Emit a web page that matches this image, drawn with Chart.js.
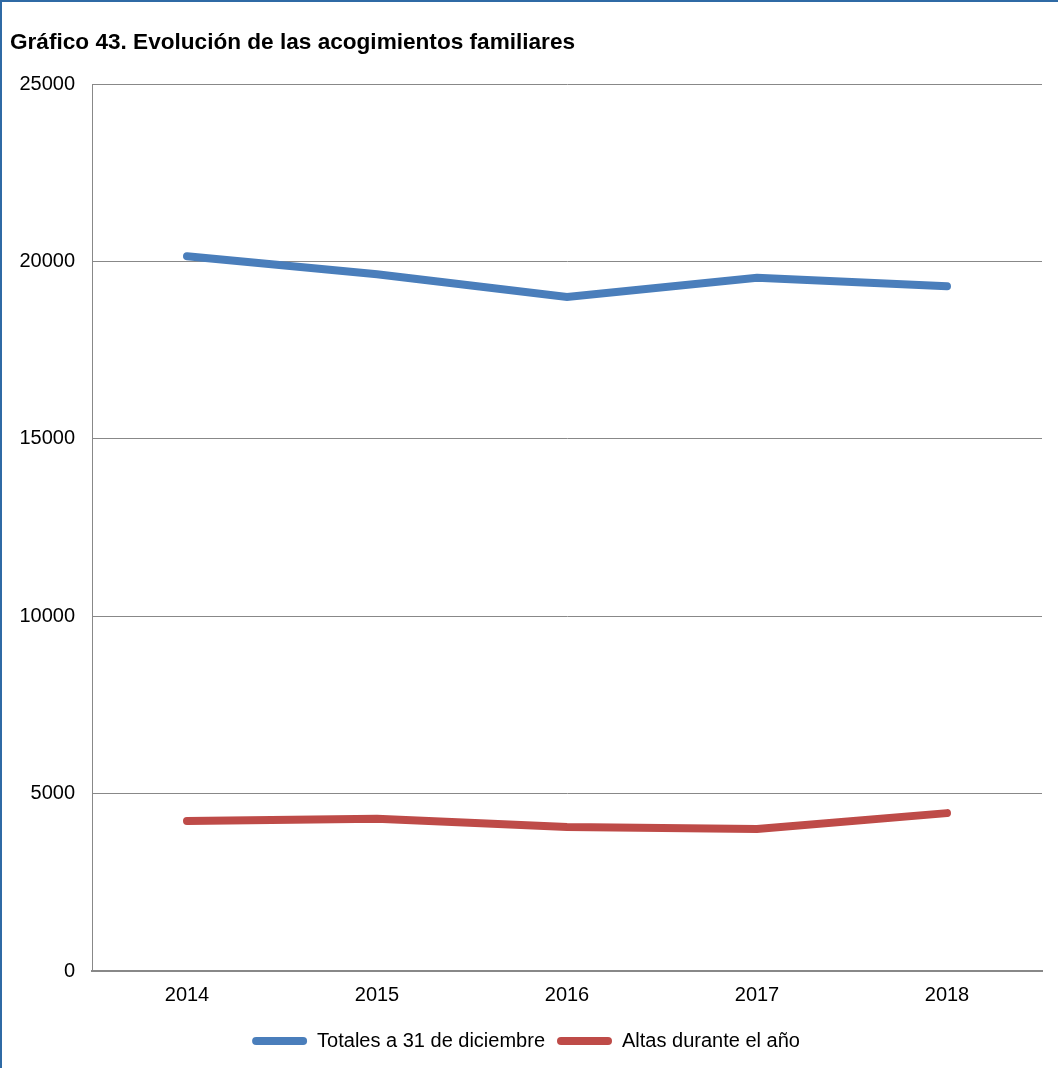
<!DOCTYPE html>
<html lang="es">
<head>
  <meta charset="UTF-8">
  <title>Gráfico 43. Evolución de las acogimientos familiares</title>
  <script src="https://cdn.jsdelivr.net/npm/chart.js"></script>
  <style>
    html, body { margin: 0; padding: 0; background: #fff; }
    #marco { width: 1056px; height: 1066px; border-top: 2px solid #2f6aa5; border-left: 2px solid #2f6aa5; }
    canvas { display: block; }
  </style>
</head>
<body>
  <div id="marco">
    <canvas id="grafico" width="1056" height="1066"></canvas>
  </div>
  <script>
    // datos
    const anios = ['2014', '2015', '2016', '2017', '2018'];
    const totalesDiciembre = [20150, 19640, 19000, 19540, 19300];
    const altasAnio = [4230, 4290, 4060, 4000, 4450];
    const ticksY = [0, 5000, 10000, 15000, 20000, 25000];

    const fuente = 'Liberation Sans, Arial, sans-serif';

    new Chart(document.getElementById('grafico'), {
      type: 'line',
      data: {
        labels: anios,
        datasets: [
          {
            label: 'Totales a 31 de diciembre',
            data: totalesDiciembre,
            borderColor: '#4a7ebb',
            backgroundColor: '#4a7ebb',
            borderWidth: 8,
            borderCapStyle: 'round',
            borderJoinStyle: 'miter',
            pointRadius: 0,
            tension: 0
          },
          {
            label: 'Altas durante el año',
            data: altasAnio,
            borderColor: '#be4b48',
            backgroundColor: '#be4b48',
            borderWidth: 8,
            borderCapStyle: 'round',
            borderJoinStyle: 'miter',
            pointRadius: 0,
            tension: 0
          }
        ]
      },
      options: {
        responsive: false,
        animation: false,
        layout: { padding: { left: 8, right: 16, top: 0, bottom: 7 } },
        scales: {
          x: {
            offset: true,
            grid: { display: false, drawTicks: false },
            border: { color: '#888', width: 2 },
            ticks: { color: '#000', font: { family: fuente, size: 20 }, padding: 12 }
          },
          y: {
            min: 0,
            max: 25000,
            afterFit: s => { s.width = 82; },
            afterBuildTicks: s => { s.ticks = ticksY.map(v => ({ value: v })); },
            grid: { color: '#888', lineWidth: 1, drawTicks: false },
            border: { color: '#888', width: 1 },
            ticks: {
              color: '#000',
              font: { family: fuente, size: 20 },
              padding: 17,
              callback: v => String(v)
            }
          }
        },
        plugins: {
          title: {
            display: true,
            text: 'Gráfico 43. Evolución de las acogimientos familiares',
            align: 'start',
            color: '#000',
            font: { family: fuente, size: 22.6, weight: 'bold' },
            padding: { top: 27, bottom: 28 }
          },
          legend: {
            position: 'bottom',
            labels: {
              color: '#000',
              font: { family: fuente, size: 20 },
              boxWidth: 55,
              boxHeight: 8,
              useBorderRadius: true,
              borderRadius: 4,
              padding: 12,
              generateLabels: chart => {
                const items = Chart.defaults.plugins.legend.labels.generateLabels(chart);
                items.forEach(it => { it.lineWidth = 0; });
                return items;
              }
            }
          },
          tooltip: { enabled: false }
        }
      }
    });
  </script>
</body>
</html>
